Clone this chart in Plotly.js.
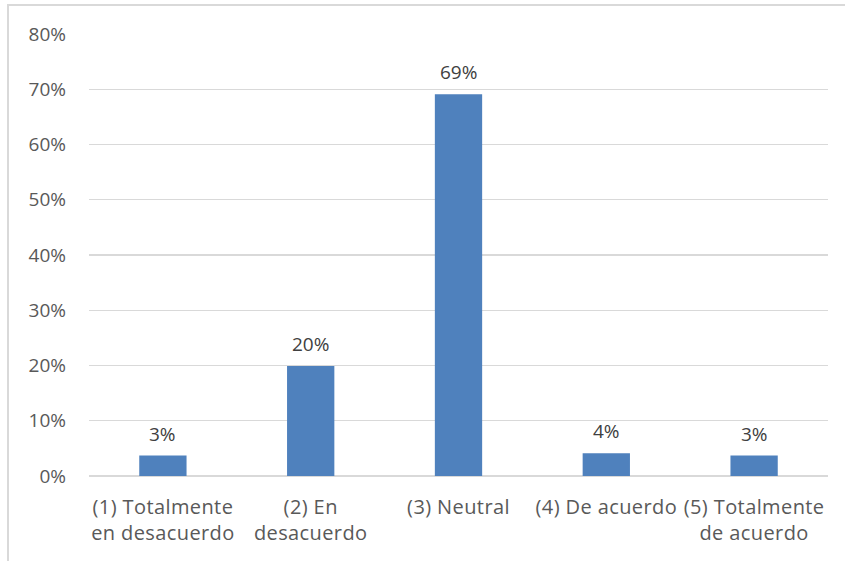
<!DOCTYPE html>
<html>
<head>
<meta charset="utf-8">
<script src="https://cdn.plot.ly/plotly-3.0.1.min.js"></script>
<style>
html,body{margin:0;padding:0;background:#fff;overflow:hidden;}
#frame{position:absolute;left:7px;top:4px;width:900px;height:600px;border-top:2px solid #d9d9d9;border-left:2px solid #d9d9d9;box-sizing:border-box;pointer-events:none;}
#chart{position:absolute;left:0;top:0;width:845px;height:561px;}
.xtick text{letter-spacing:0.4px;}
</style>
</head>
<body>
<div id="chart"></div>
<div id="frame"></div>
<script>
var categories = ["(1) Totalmente<br>en desacuerdo", "(2) En<br>desacuerdo", "(3) Neutral", "(4) De acuerdo", "(5) Totalmente<br>de acuerdo"];
var values = [0.037, 0.199, 0.691, 0.041, 0.037];
var valueLabels = ["3%", "20%", "69%", "4%", "3%"];
var yTicks = [0, 0.1, 0.2, 0.3, 0.4, 0.5, 0.6, 0.7, 0.8];
var yTickLabels = ["0%", "10%", "20%", "30%", "40%", "50%", "60%", "70%", "80%"];

var fam = "Open Sans, Lato, sans-serif";

var trace = {
  type: "bar",
  x: categories,
  y: values,
  marker: {color: "#4f81bd", line: {width: 0}},
  hoverinfo: "none"
};

var annotations = categories.map(function(c, i) {
  return {x: c, y: values[i], xref: "x", yref: "y", text: valueLabels[i],
    showarrow: false, yanchor: "bottom", yshift: 7,
    font: {family: fam, size: 19, color: "#404040"}};
});

var layout = {
  width: 845, height: 561,
  margin: {l: 89, r: 17, t: 34, b: 85},
  paper_bgcolor: "#ffffff", plot_bgcolor: "#ffffff",
  bargap: 0.68,
  showlegend: false,
  font: {family: fam, size: 19, color: "#595959"},
  xaxis: {type: "category", showgrid: false, showline: false, zeroline: false, ticks: "",
    ticklabelstandoff: 17,
    tickfont: {family: fam, size: 20, color: "#595959"}, automargin: false, fixedrange: true},
  yaxis: {range: [0, 0.8], tickvals: yTicks, ticktext: yTickLabels, showgrid: true,
    gridcolor: "#d9d9d9", gridwidth: 1.3, zeroline: true, zerolinecolor: "#d9d9d9", zerolinewidth: 1.3,
    showline: false, ticks: "", ticklabelstandoff: 22,
    tickfont: {family: fam, size: 19, color: "#595959"}, automargin: false, fixedrange: true},
  annotations: annotations
};

Plotly.newPlot("chart", [trace], layout, {displayModeBar: false, staticPlot: true});
</script>
</body>
</html>
